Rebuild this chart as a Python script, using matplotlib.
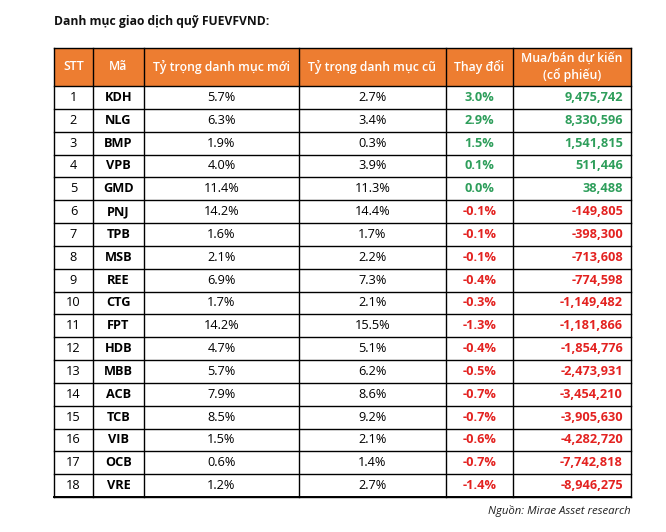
import matplotlib
matplotlib.use('Agg')
import matplotlib.pyplot as plt
from matplotlib.patches import Rectangle

plt.rcParams['font.family'] = ['Open Sans', 'DejaVu Sans']

# dữ liệu bảng
stt = list(range(1, 19))
tickers = ['KDH', 'NLG', 'BMP', 'VPB', 'GMD', 'PNJ', 'TPB', 'MSB', 'REE',
           'CTG', 'FPT', 'HDB', 'MBB', 'ACB', 'TCB', 'VIB', 'OCB', 'VRE']
new_weight = [5.7, 6.3, 1.9, 4.0, 11.4, 14.2, 1.6, 2.1, 6.9,
              1.7, 14.2, 4.7, 5.7, 7.9, 8.5, 1.5, 0.6, 1.2]
old_weight = [2.7, 3.4, 0.3, 3.9, 11.3, 14.4, 1.7, 2.2, 7.3,
              2.1, 15.5, 5.1, 6.2, 8.6, 9.2, 2.1, 1.4, 2.7]
change = [3.0, 2.9, 1.5, 0.1, 0.0, -0.1, -0.1, -0.1, -0.4,
          -0.3, -1.3, -0.4, -0.5, -0.7, -0.7, -0.6, -0.7, -1.4]
trade_shares = [9475742, 8330596, 1541815, 511446, 38488, -149805, -398300,
                -713608, -774598, -1149482, -1181866, -1854776, -2473931,
                -3454210, -3905630, -4282720, -7742818, -8946275]
headers = ['STT', 'Mã', 'Tỷ trọng danh mục mới', 'Tỷ trọng danh mục cũ',
           'Thay đổi', 'Mua/bán dự kiến\n(cổ phiếu)']

W, H = 666, 532
fig = plt.figure(figsize=(W / 100, H / 100), dpi=100)
ax = fig.add_axes([0, 0, 1, 1])
ax.set_xlim(0, W)
ax.set_ylim(H, 0)
ax.axis('off')

col_x = [54, 93, 144, 299, 446, 513, 631]
top, head_bot, bottom = 48, 86, 497
row_h = (bottom - head_bot) / len(tickers)

orange = '#ED7D31'
green = '#2E9E5B'
red = '#E32220'
fs = 9.2

ax.text(54, 21, 'Danh mục giao dịch quỹ FUEVFVND:', fontsize=8.7, fontweight='bold',
        ha='left', va='center', color='#111111')

# header
ax.add_patch(Rectangle((col_x[0], top), col_x[-1] - col_x[0], head_bot - top,
                       facecolor=orange, edgecolor='none'))
for i, h in enumerate(headers):
    cx = (col_x[i] + col_x[i + 1]) / 2
    ax.text(cx, (top + head_bot) / 2, h, color='white', fontsize=8.8, fontweight='semibold',
            ha='center', va='center', linespacing=1.3)

# rows
for r in range(len(tickers)):
    cy = head_bot + (r + 0.5) * row_h
    col = green if change[r] >= 0 else red
    ax.text((col_x[0] + col_x[1]) / 2, cy, str(stt[r]), fontsize=fs, ha='center', va='center')
    ax.text((col_x[1] + col_x[2]) / 2, cy, tickers[r], fontsize=fs, fontweight='bold',
            ha='center', va='center')
    ax.text((col_x[2] + col_x[3]) / 2, cy, f'{new_weight[r]:.1f}%', fontsize=fs,
            ha='center', va='center')
    ax.text((col_x[3] + col_x[4]) / 2, cy, f'{old_weight[r]:.1f}%', fontsize=fs,
            ha='center', va='center')
    ax.text((col_x[4] + col_x[5]) / 2, cy, f'{change[r]:.1f}%', fontsize=fs,
            fontweight='bold', color=col, ha='center', va='center')
    ax.text(col_x[6] - 8, cy, f'{trade_shares[r]:,}', fontsize=fs,
            fontweight='bold', color=col, ha='right', va='center')

# grid lines
for x in col_x:
    ax.plot([x, x], [top, bottom], color='black', lw=1.0)
ax.plot([col_x[0], col_x[-1]], [top, top], color='black', lw=1.0)
for r in range(len(tickers) + 1):
    y = head_bot + r * row_h
    ax.plot([col_x[0], col_x[-1]], [y, y], color='black', lw=1.0)
ax.plot([col_x[0], col_x[-1]], [bottom, bottom], color='black', lw=1.4)

ax.text(col_x[-1], 511, 'Nguồn: Mirae Asset research', fontsize=8.2, style='italic',
        ha='right', va='center', color='#222222')

fig.savefig('out.png', dpi=100, facecolor='white')
